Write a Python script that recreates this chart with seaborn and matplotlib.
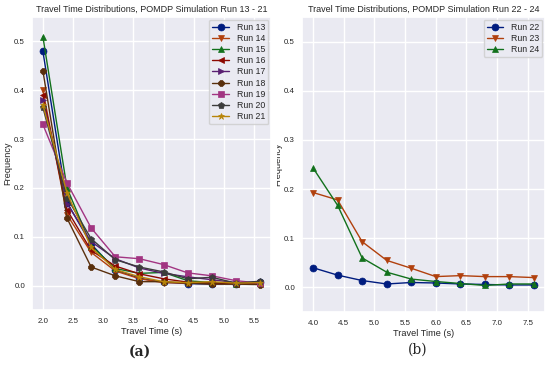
import matplotlib
matplotlib.use("Agg")
import matplotlib.pyplot as plt
import seaborn as sns
from matplotlib.transforms import Bbox

# travel time bins
times_a = [2.0, 2.4, 2.8, 3.2, 3.6, 4.0, 4.4, 4.8, 5.2, 5.6]
times_b = [4.0, 4.4, 4.8, 5.2, 5.6, 6.0, 6.4, 6.8, 7.2, 7.6]

# runs 13 - 21
run13 = [0.48, 0.170, 0.085, 0.032, 0.015, 0.007, 0.004, 0.003, 0.004, 0.008]
run14 = [0.40, 0.145, 0.068, 0.030, 0.014, 0.006, 0.005, 0.004, 0.004, 0.004]
run15 = [0.51, 0.200, 0.082, 0.035, 0.025, 0.027, 0.010, 0.006, 0.004, 0.007]
run16 = [0.39, 0.155, 0.072, 0.040, 0.024, 0.014, 0.007, 0.005, 0.004, 0.004]
run17 = [0.38, 0.168, 0.090, 0.055, 0.036, 0.025, 0.018, 0.012, 0.006, 0.006]
run18 = [0.44, 0.138, 0.038, 0.020, 0.008, 0.008, 0.005, 0.003, 0.003, 0.002]
run19 = [0.33, 0.210, 0.118, 0.059, 0.055, 0.043, 0.026, 0.020, 0.010, 0.005]
run20 = [0.365, 0.180, 0.096, 0.053, 0.038, 0.028, 0.014, 0.017, 0.005, 0.009]
run21 = [0.37, 0.190, 0.078, 0.033, 0.018, 0.008, 0.006, 0.008, 0.005, 0.006]
runs_a = [run13, run14, run15, run16, run17, run18, run19, run20, run21]
labels_a = ["Run 13", "Run 14", "Run 15", "Run 16", "Run 17", "Run 18",
            "Run 19", "Run 20", "Run 21"]

# runs 22 - 24
run22 = [0.040, 0.025, 0.014, 0.007, 0.010, 0.009, 0.007, 0.006, 0.005, 0.005]
run23 = [0.193, 0.178, 0.093, 0.055, 0.039, 0.022, 0.024, 0.022, 0.022, 0.020]
run24 = [0.243, 0.167, 0.060, 0.031, 0.017, 0.012, 0.008, 0.004, 0.007, 0.007]
runs_b = [run22, run23, run24]
labels_b = ["Run 22", "Run 23", "Run 24"]

markers = ["o", "v", "^", "<", ">", "8", "s", "p", "*"]

sns.set_theme(style="darkgrid")
plt.rcParams["font.family"] = ["Liberation Sans", "DejaVu Sans"]
colors = sns.color_palette("dark", 9)

fig = plt.figure(figsize=(5.5, 3.66), dpi=100)
ax1 = fig.add_axes([32 / 550, 1 - 310 / 366, 239 / 550, 293 / 366])
ax2 = fig.add_axes([302 / 550, 1 - 312 / 366, 243 / 550, 295 / 366])


def draw_panel(ax, times, runs, labels, title):
    for i, (vals, lab) in enumerate(zip(runs, labels)):
        sns.lineplot(x=times, y=vals, ax=ax, color=colors[i], marker=markers[i],
                     markersize=5, markeredgewidth=0.5, markeredgecolor=colors[i],
                     linewidth=1.0, label=lab)
    ax.set_ylim(-0.05, 0.55)
    ax.set_title(title, fontsize=6.5, pad=4)
    ax.set_xlabel("Travel Time (s)", fontsize=6.6, labelpad=1.5)
    ax.tick_params(axis="x", labelsize=5.7, pad=5.5, length=0)
    ax.tick_params(axis="y", labelsize=5.7, pad=5, length=0)
    ax.legend(loc="upper right", fontsize=6.3, handlelength=1.9,
              borderpad=0.35, labelspacing=0.25, handletextpad=0.9,
              borderaxespad=0.3)


draw_panel(ax1, times_a, runs_a, labels_a,
           "Travel Time Distributions, POMDP Simulation Run 13 - 21")
draw_panel(ax2, times_b, runs_b, labels_b,
           "Travel Time Distributions, POMDP Simulation Run 22 - 24")
ax1.set_xticks([2.0, 2.5, 3.0, 3.5, 4.0, 4.5, 5.0, 5.5])
ax2.set_xticks([4.0, 4.5, 5.0, 5.5, 6.0, 6.5, 7.0, 7.5])

ax1.set_ylabel("Frequency", fontsize=6.6, labelpad=1.5)
# right panel label is cut by the panel edge in the original
ylab = ax2.set_ylabel("Frequency", fontsize=6.6, labelpad=1.5)
ylab.set_clip_box(Bbox.from_extents(277, 0, 550, 366))
ylab.set_clip_on(True)

fig.text(140 / 550, 1 - 352 / 366, "(a)", ha="center", va="center",
         fontsize=10, fontweight="bold", family="DejaVu Serif")
fig.text(418 / 550, 1 - 350 / 366, "(b)", ha="center", va="center",
         fontsize=10, family="DejaVu Serif")

fig.savefig("out.png", dpi=100)
